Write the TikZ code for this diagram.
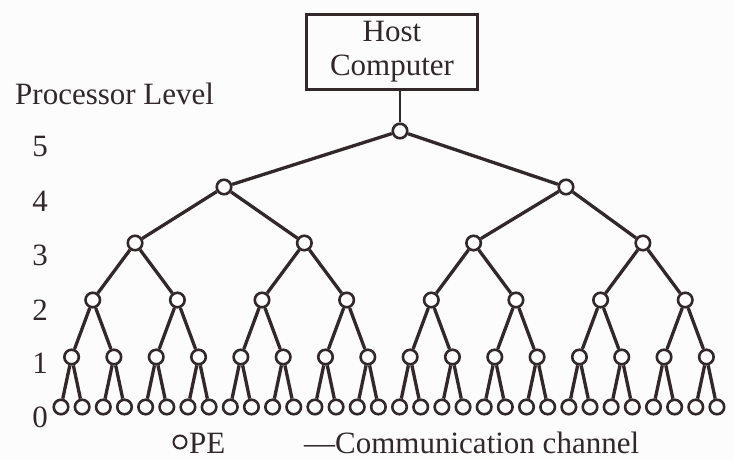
\documentclass[tikz,border=0pt]{standalone}
\usepackage{fontspec}
\setmainfont{Liberation Serif}
\definecolor{ink}{RGB}{50,40,42}
\definecolor{paper}{RGB}{252,252,252}
\begin{document}
\begin{tikzpicture}[x=1pt,y=-1pt,
  pe/.style={circle,draw=ink,line width=2.6pt,fill=white,minimum size=14.5pt,inner sep=0pt},
  link/.style={draw=ink,line width=3.3pt},
  lbl/.style={font=\fontsize{31}{32}\selectfont,text=ink,inner sep=0pt},
  hostbox/.style={draw=ink,line width=2.4pt,minimum width=171pt,minimum height=75pt,
    align=center,font=\fontsize{31}{34}\selectfont,text=ink,inner sep=0pt}]
\fill[paper] (0,0) rectangle (734,460);
\useasboundingbox (0,0) rectangle (734,460);

% processing elements, level 0 (leaves)
\foreach \i in {0,...,31} {
  \node[pe] (n0-\i) at ({61+21.16*\i},407) {};
}
% levels 1 to 3: centred over their subtrees
\foreach \j in {0,...,15} {
  \node[pe] (n1-\j) at ({61+21.16*(2*\j+0.5)},357) {};
}
\foreach \j in {0,...,7} {
  \node[pe] (n2-\j) at ({61+21.16*(4*\j+1.5)},300) {};
}
\foreach \j in {0,...,3} {
  \node[pe] (n3-\j) at ({61+21.16*(8*\j+3.5)},243) {};
}
% levels 4 and 5
\node[pe] (n4-0) at (224,187) {};
\node[pe] (n4-1) at (566,187) {};
\node[pe] (n5-0) at (400,131) {};

% communication channels
\foreach \l/\m/\c in {1/0/15,2/1/7,3/2/3,4/3/1,5/4/0} {
  \foreach \j in {0,...,\c} {
    \pgfmathtruncatemacro\a{2*\j}
    \pgfmathtruncatemacro\b{2*\j+1}
    \draw[link] (n\l-\j) -- (n\m-\a);
    \draw[link] (n\l-\j) -- (n\m-\b);
  }
}

% host computer
\node[hostbox] (host) at (392,52) {Host\\Computer};
\draw[link,line width=2.4pt] (host.south -| n5-0) -- (n5-0);

% level labels
\node[lbl,anchor=base west] (title) at (15,105) {Processor Level};
\foreach \k/\y in {5/156,4/211,3/265,2/320,1/373,0/427} {
  \node[lbl,anchor=base] (lv\k) at (40,\y) {\k};
}

% legend
\node[circle,draw=ink,line width=2pt,minimum size=13pt,inner sep=0pt] (legpe) at (180,442) {};
\node[lbl,anchor=base west] (pe-text) at (189,453) {PE};
\node[lbl,anchor=base west] (comm-text) at (304,453) {—Communication channel};
\end{tikzpicture}
\end{document}
